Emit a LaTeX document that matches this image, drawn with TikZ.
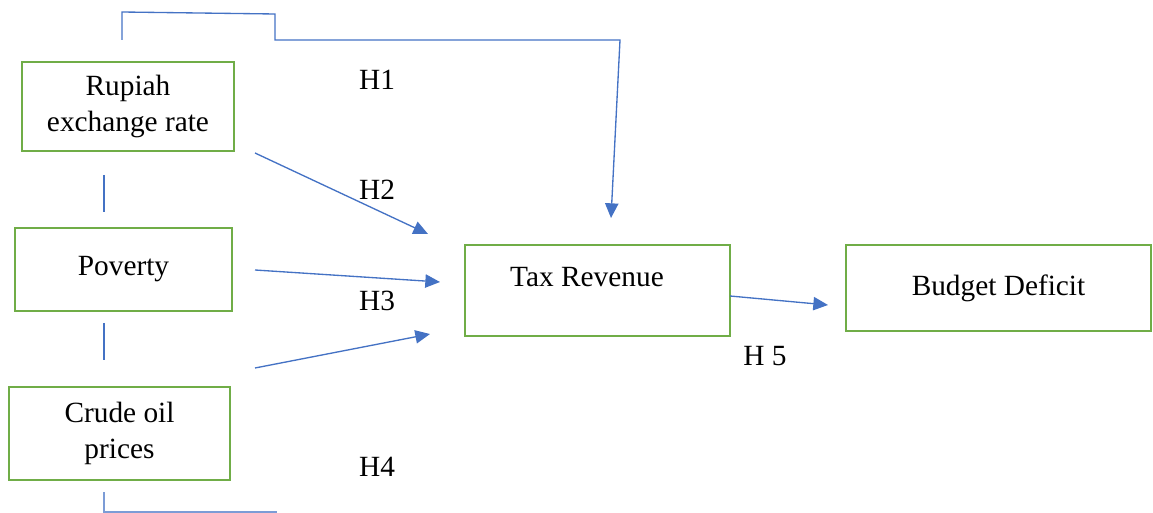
\documentclass[tikz,border=0pt]{standalone}
\usepackage{fontspec}
\setmainfont{Liberation Serif}
\usetikzlibrary{arrows.meta}
\definecolor{boxgreen}{RGB}{112,173,71}
\definecolor{lineblue}{RGB}{68,114,196}

\begin{document}
\begin{tikzpicture}[x=0.75pt,y=-0.75pt,
  font=\fontsize{22}{26.5}\selectfont,
  box/.style={draw=boxgreen,line width=2.1pt,inner sep=0pt,align=center},
  link/.style={draw=lineblue,line width=1pt},
  arr/.style={link,-{Triangle[length=11pt,width=10pt]}}]
\useasboundingbox (0,0) rectangle (1153,513);
\node[box,minimum width=159pt,minimum height=66.75pt] (rupiah) at (128,106.5) {Rupiah\\exchange rate};
\node[box,minimum width=162.75pt,minimum height=62.25pt] (poverty) at (123.5,269.5) {Poverty};
\node[box,minimum width=165.75pt,minimum height=69.75pt] (oil) at (119.5,433.5) {Crude oil\\prices};
\node[box,minimum width=198.75pt,minimum height=68.25pt] (tax) at (597.5,290.5) {};
\node (taxtext) at (587,277) {Tax Revenue};
\node[box,minimum width=228.75pt,minimum height=64.5pt] (deficit) at (998.5,288) {Budget Deficit};
% hypothesis labels
\node (h1) at (377,80) {H1};
\node (h2) at (377,190) {H2};
\node (h3) at (377,301) {H3};
\node (h4) at (377,467) {H4};
\node (h5) at (765,356) {H 5};
% arrow ends
\coordinate (t1) at (122,40);
\coordinate (t2) at (122,12);
\coordinate (t3) at (275,14);
\coordinate (t4) at (275,40);
\coordinate (t5) at (620,40);
\coordinate (t6) at (611,218);
\coordinate (a2) at (255,153);
\coordinate (b2) at (428,234);
\coordinate (a3) at (255,270);
\coordinate (b3) at (440,282);
\coordinate (a4) at (255,368);
\coordinate (b4) at (430,334);
\coordinate (a5) at (730,296);
\coordinate (b5) at (828,305);
\coordinate (v1) at (104,175);
\coordinate (v2) at (104,212);
\coordinate (v3) at (104,323);
\coordinate (v4) at (104,360);
\coordinate (v5) at (104,492);
\coordinate (v6) at (104,512);
\coordinate (v7) at (277,512);
\draw [arr](t1)--(t2)--(t3)--(t4)--(t5)--(t6);
\draw [arr](a2)--(b2);
\draw [arr](a3)--(b3);
\draw [arr](a4)--(b4);
\draw [arr](a5)--(b5);
\draw [link](v1)--(v2);
\draw [link](v3)--(v4);
\draw [link,draw=lineblue!70](v5)--(v6)--(v7);
\end{tikzpicture}
\end{document}
